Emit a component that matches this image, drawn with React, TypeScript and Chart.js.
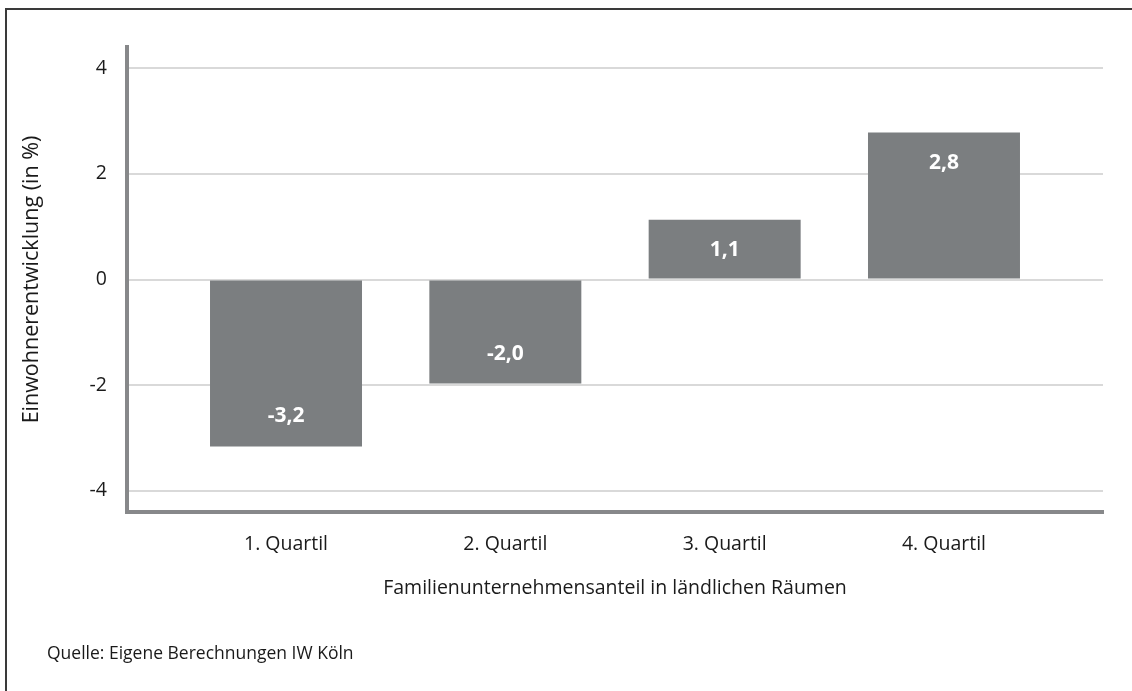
import React, { useEffect, useRef } from 'react';
import { Chart, registerables } from 'chart.js';

Chart.register(...registerables);

const categories = ['1. Quartil', '2. Quartil', '3. Quartil', '4. Quartil'];
const values = [-3.16, -1.97, 1.13, 2.78];
const yTicks = [-4, -2, 0, 2, 4];
const yTitle = 'Einwohnerentwicklung (in %)';
const xTitle = 'Familienunternehmensanteil in ländlichen Räumen';
const sourceText = 'Quelle: Eigene Berechnungen IW Köln';

const FONT = "'Open Sans', 'Noto Sans', sans-serif";
const TEXT = '#1a1a1a';
const BAR = '#7b7e80';
const AXIS = '#87888a';
const GRID = '#d9d9d9';

const fmt = (v: number) => v.toFixed(1).replace('.', ',');

const barLabels = {
  id: 'barLabels',
  afterDatasetsDraw(chart: any) {
    const ctx = chart.ctx;
    const meta = chart.getDatasetMeta(0);
    ctx.save();
    ctx.fillStyle = '#ffffff';
    ctx.font = `bold 21px ${FONT}`;
    ctx.textAlign = 'center';
    ctx.textBaseline = 'middle';
    meta.data.forEach((bar: any, i: number) => {
      const v = values[i];
      const y = v >= 0 ? bar.y + 30 : bar.y - 30;
      ctx.fillText(fmt(v), bar.x, y);
    });
    ctx.restore();
  },
};

export default function App() {
  const ref = useRef<HTMLCanvasElement | null>(null);

  useEffect(() => {
    document.documentElement.style.overflow = 'hidden';
    document.body.style.overflow = 'hidden';
    const canvas = ref.current;
    if (!canvas) return;
    const chart = new Chart(canvas, {
      type: 'bar',
      data: {
        datasets: [
          {
            data: values.map((v, i) => ({ x: i, y: v })),
            backgroundColor: BAR,
            borderWidth: 0,
            barPercentage: 0.693,
            categoryPercentage: 1,
          },
        ],
      },
      options: {
        animation: false,
        responsive: false,
        layout: { padding: { left: 0, top: 47, right: 29, bottom: 0 } },
        plugins: {
          legend: { display: false },
          tooltip: { enabled: false },
        },
        scales: {
          x: {
            type: 'linear',
            min: -0.725,
            max: 3.725,
            offset: false,
            grid: { display: false, drawTicks: false, offset: false },
            border: { display: true, color: AXIS, width: 4 },
            ticks: {
              padding: 21,
              color: TEXT,
              font: { family: FONT, size: 19.5 },
              autoSkip: false,
              maxRotation: 0,
              callback: (v: any) => categories[v as number] ?? '',
            },
            afterBuildTicks: (s: any) => {
              s.ticks = categories.map((_, i) => ({ value: i }));
            },
            afterFit: (s: any) => {
              s.height = 179;
            },
            title: {
              display: true,
              text: xTitle,
              color: TEXT,
              font: { family: FONT, size: 19.5 },
              padding: { top: 0, bottom: 91 },
            },
          },
          y: {
            min: -4.4,
            max: 4.4,
            afterBuildTicks: (s: any) => {
              s.ticks = yTicks.map((v) => ({ value: v }));
            },
            grid: { color: GRID, lineWidth: 2, drawTicks: false },
            border: { display: true, color: AXIS, width: 4 },
            ticks: {
              padding: 20,
              color: TEXT,
              font: { family: FONT, size: 19.5 },
              callback: (v: any) => String(v),
            },
            afterFit: (s: any) => {
              s.width = 127;
            },
            title: {
              display: true,
              text: yTitle,
              color: TEXT,
              font: { family: FONT, size: 21.5 },
              padding: { top: 19, bottom: 0 },
            },
          },
        },
      },
      plugins: [barLabels],
    } as any);
    return () => chart.destroy();
  }, []);

  return (
    <div>
      <div
        style={{
          position: 'absolute',
          left: 5,
          top: 8,
          width: 1127,
          height: 683,
          boxSizing: 'border-box',
          borderLeft: '2px solid #3a3a3a',
          borderTop: '2px solid #3a3a3a',
        }}
      />
      <canvas
        ref={ref}
        width={1132}
        height={691}
        style={{ position: 'absolute', left: 0, top: 0, display: 'block' }}
      />
      <div
        style={{
          position: 'absolute',
          left: 47,
          top: 640,
          lineHeight: '24px',
          fontFamily: FONT,
          fontSize: '17.5px',
          color: TEXT,
          whiteSpace: 'nowrap',
        }}
      >
        {sourceText}
      </div>
    </div>
  );
}
